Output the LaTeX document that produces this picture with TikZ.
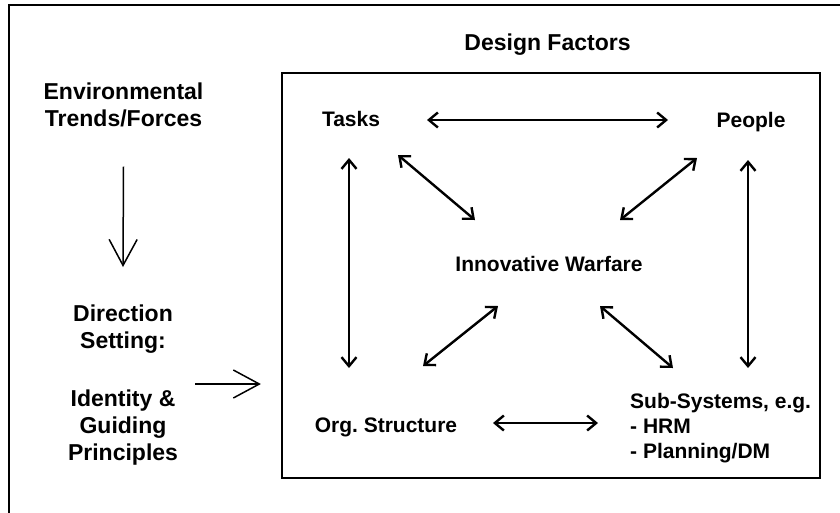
\documentclass[tikz,border=0pt]{standalone}
\usepackage{fontspec}
\setmainfont{Liberation Sans}
\usetikzlibrary{arrows.meta,calc}
\frenchspacing
\tikzset{
  big/.style={font=\fontsize{23}{27}\selectfont\bfseries, align=center, inner sep=0pt},
  lbl/.style={font=\fontsize{21}{25}\selectfont\bfseries, inner sep=0pt},
  biarrow/.style={line width=2.4pt, {Straight Barb[length=9pt,width=15pt]}-{Straight Barb[length=9pt,width=15pt]}},
  onearrow/.style={line width=1.5pt, -{Straight Barb[length=26pt,width=28pt,line width=1.5pt]}},
  frame/.style={draw, line width=2.2pt, minimum width=538pt, minimum height=405pt, inner sep=0pt}
}
\begin{document}
\begin{tikzpicture}[x=1pt,y=-1pt]
\useasboundingbox (0,0) rectangle (840,512);
\clip (0,0) rectangle (840,512);
\draw[line width=1.2pt] (9,520) -- (9,5) -- (850,5);

\node[frame] (factors) at (551,275.5) {};
\node[big, anchor=base] (design) at (547.5,50) {Design Factors};

\node[big, anchor=north] (env) at (123.5,83) {Environmental\\Trends/Forces};
\node[big, anchor=north] (direction) at (123,305) {Direction\\Setting:};
\node[big, anchor=north] (identity) at (123,390) {Identity \&\\Guiding\\Principles};

\node[lbl, anchor=base] (tasks) at (351,126) {Tasks};
\node[lbl, anchor=base] (people) at (751,127) {People};
\node[lbl, anchor=base] (iw) at (549,271) {Innovative Warfare};
\node[lbl, anchor=base] (org) at (386,432) {Org. Structure};
\node[lbl, anchor=north west, align=left] (sub) at (630,393) {Sub-Systems, e.g.\\- HRM\\- Planning/DM};

\draw[onearrow] ($(env.south)+(0,39)$) -- ($(direction.north)+(0,-38)$);
\draw[onearrow] ($(identity.north)+(72,-6)$) -- ($(factors.west)+(-20,108.5)$);

\draw[biarrow] ($(tasks.base)+(76,-6)$) -- ($(people.base)+(-83,-7)$);
\draw[biarrow] ($(tasks.base)+(-2,32)$) -- ($(org.base)+(-37,-64)$);
\draw[biarrow] ($(people.base)+(-3,33)$) -- ($(sub.north west)+(118,-25)$);
\draw[biarrow] ($(tasks.base)+(47,29)$) -- ($(iw.base)+(-74,-51)$);
\draw[biarrow] ($(people.base)+(-54,31)$) -- ($(iw.base)+(71,-51)$);
\draw[biarrow] ($(iw.base)+(-51,35)$) -- ($(org.base)+(37,-66)$);
\draw[biarrow] ($(iw.base)+(51,35)$) -- ($(sub.north west)+(43,-25)$);
\draw[biarrow] ($(org.base)+(107,-9)$) -- ($(sub.north west)+(-32,30)$);
\end{tikzpicture}
\end{document}
